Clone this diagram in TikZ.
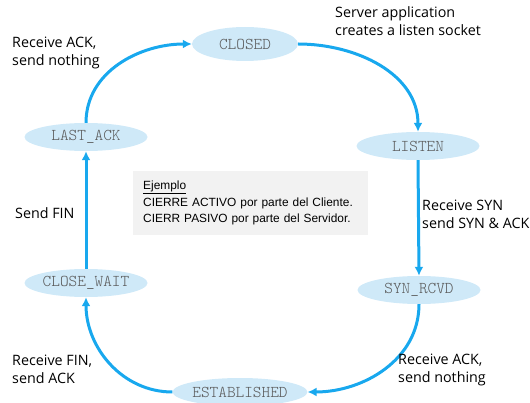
\documentclass[tikz,border=0pt]{standalone}
\usepackage{fontspec}
\usepackage{tikz}
\usetikzlibrary{shapes.geometric, arrows.meta, positioning}
\newfontfamily\labelfont{Open Sans}
\newfontfamily\statefont{Latin Modern Mono Light}
\newfontfamily\notefont{Liberation Sans}
\definecolor{tcpblue}{HTML}{18A8EE}
\definecolor{statefill}{HTML}{CFE9F8}
\definecolor{stategray}{HTML}{5A5A5A}
\definecolor{notefill}{HTML}{F2F2F2}

\begin{document}
\begin{tikzpicture}[x=1pt,y=1pt]

	\tikzset{state/.style={
			ellipse,
			fill=statefill,
			minimum width=123pt,
			minimum height=28pt,
			inner sep=0pt,
			text=stategray,
			font=\statefont\fontsize{16.5}{18}\selectfont
		},
		edge label/.style={
			align=left,
			anchor=west,
			inner sep=0pt,
			font=\labelfont\fontsize{14.3}{18}\selectfont
		},
		trans/.style={
			draw=tcpblue,
			line width=3pt,
			-{Latex[length=9pt,width=9pt]}
		}
	}

	\useasboundingbox (0,0) rectangle (530,402);

	% states
	\node[state, minimum width=106pt, minimum height=34pt] (closed) at (245,358) {CLOSED};
	\node[state] (listen) at (418,256) {LISTEN};
	\node[state] (synrcvd) at (419,112) {SYN\_RCVD};
	\node[state] (established) at (240,10) {ESTABLISHED};
	\node[state] (closewait) at (86,119) {CLOSE\_WAIT};
	\node[state] (lastack) at (86,265) {LAST\_ACK};

	% transitions
	\draw[trans] (closed.east) to[out=0,in=90] (listen.north);
	\draw[trans] (listen.south) -- (synrcvd.north);
	\draw[trans] (synrcvd.south) to[out=-90,in=0] (established.east);
	\draw[trans] (established.west) to[out=180,in=-90] (closewait.south);
	\draw[trans] (closewait.north) -- (lastack.south);
	\draw[trans] (lastack.north) to[out=90,in=180] (closed.west);

	% labels
	\node[edge label] (lblopen) at (335,381) {Server application\\creates a listen socket};
	\node[edge label] (lblsyn) at (422,188) {Receive SYN\\send SYN \& ACK};
	\node[edge label] (lblack) at (398,32) {Receive ACK,\\send nothing};
	\node[edge label] (lblfin) at (12,33) {Receive FIN,\\send ACK};
	\node[edge label] (lblsend) at (15,189) {Send FIN};
	\node[edge label] (lbllast) at (12,349) {Receive ACK,\\send nothing};

	% note
	\node[fill=notefill, anchor=north west, minimum width=235pt, minimum height=64pt,
		align=left, text width=215pt, inner xsep=10pt, inner ysep=7pt,
		font=\notefont\fontsize{11.9}{16.5}\selectfont]
		(note) at (133,231) {\underline{Ejemplo}\\CIERRE ACTIVO por parte del Cliente.\\CIERR PASIVO por parte del Servidor.};

\end{tikzpicture}
\end{document}
